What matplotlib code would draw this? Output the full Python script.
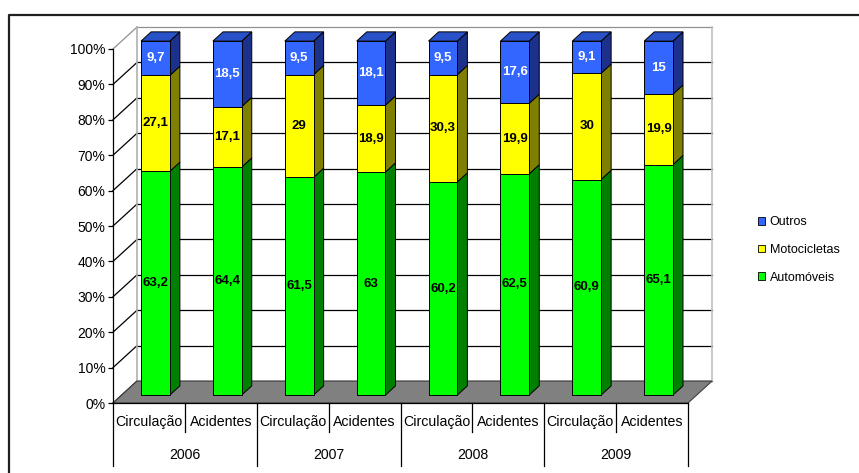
import matplotlib.pyplot as plt
from matplotlib.patches import Polygon, Patch
from matplotlib.lines import Line2D

plt.rcParams['font.family'] = ['Liberation Sans', 'DejaVu Sans']

# data
years = ['2006', '2007', '2008', '2009']
subcats = ['Circulação', 'Acidentes']
automoveis = [63.2, 64.4, 61.5, 63, 60.2, 62.5, 60.9, 65.1]
motocicletas = [27.1, 17.1, 29, 18.9, 30.3, 19.9, 30, 19.9]
outros = [9.7, 18.5, 9.5, 18.1, 9.5, 17.6, 9.1, 15]

series = [
    ('Automóveis', automoveis, '#00FF00', '#008000', '#00C000', 'black'),
    ('Motocicletas', motocicletas, '#FFFF00', '#808000', '#C0C000', 'black'),
    ('Outros', outros, '#3366FF', '#1C318C', '#2A52C8', 'white'),
]

# fake 3d: depth offset in data units (per unit of depth)
DX, DY = 0.334, 6.2
D0, D1 = 0.36, 0.78
BAR_L, BAR_W = 0.27, 0.40
n = len(automoveis)


def proj(x, y, d):
    return (x + d * DX, y + d * DY)


fig = plt.figure(figsize=(8.59, 4.73), dpi=100)
ax = fig.add_axes([113 / 859, 70 / 473, 575 / 859, 354 / 473])
ax.set_xlim(0, n)
ax.set_ylim(0, 100)
for s in ['top', 'right', 'bottom']:
    ax.spines[s].set_visible(False)
ax.spines['left'].set_linewidth(0.9)
ax.set_xticks([])
ax.set_yticks(range(0, 101, 10))
ax.set_yticklabels([f'{v}%' for v in range(0, 101, 10)])
ax.tick_params(axis='y', direction='out', length=3.5, width=0.9, labelsize=10, pad=2)

# walls and gridlines
for v in range(0, 101, 10):
    c = '#909090' if v == 100 else 'black'
    x0, y0 = proj(0, v, 1)
    x1, y1 = proj(n, v, 1)
    ax.plot([x0, x1], [y0, y1], color=c, lw=0.9, clip_on=False, zorder=1)
    xa, ya = proj(0, v, 0)
    ax.plot([xa, x0], [ya, y0], color=c, lw=0.9, clip_on=False, zorder=1)
for xx, c in [(0, '#b0b0b0'), (n, '#c0c0c0')]:
    xa, ya = proj(xx, 0, 1)
    xb, yb = proj(xx, 100, 1)
    ax.plot([xa, xb], [ya, yb], color=c, lw=1.2, clip_on=False, zorder=1)

floor = Polygon([proj(0, 0, 0), proj(n, 0, 0), proj(n, 0, 1), proj(0, 0, 1)],
                closed=True, facecolor='#808080', edgecolor='#404040', lw=0.8,
                clip_on=False, zorder=2)
ax.add_patch(floor)
ax.plot([0, n], [0, 0], color='black', lw=0.9, clip_on=False, zorder=2.5)

# bars
for i in range(n):
    x0 = i + BAR_L
    x1 = x0 + BAR_W
    bottom = 0
    for k, (name, vals, front, side, top, tc) in enumerate(series):
        v = vals[i]
        y0, y1 = bottom, bottom + v
        sidep = Polygon([proj(x1, y0, D0), proj(x1, y0, D1), proj(x1, y1, D1), proj(x1, y1, D0)],
                        facecolor=side, edgecolor='black', lw=0.7, clip_on=False, zorder=4)
        frontp = Polygon([proj(x0, y0, D0), proj(x1, y0, D0), proj(x1, y1, D0), proj(x0, y1, D0)],
                         facecolor=front, edgecolor='black', lw=0.7, clip_on=False, zorder=5)
        ax.add_patch(sidep)
        ax.add_patch(frontp)
        if k == len(series) - 1:
            topp = Polygon([proj(x0, y1, D0), proj(x1, y1, D0), proj(x1, y1, D1), proj(x0, y1, D1)],
                           facecolor=top, edgecolor='black', lw=0.7, clip_on=False, zorder=5)
            ax.add_patch(topp)
        lx, ly = proj((x0 + x1) / 2, (y0 + y1) / 2, D0)
        ax.text(lx, ly, f'{v:g}'.replace('.', ','), ha='center', va='center',
                fontsize=9.5, fontweight='bold', color=tc, zorder=10)
        bottom = y1

# category table below the floor
for k in range(n + 1):
    ylow = -17.8 if k % 2 == 0 else -8.2
    ax.plot([k, k], [0, ylow], color='black', lw=0.9, clip_on=False, zorder=2)
for i in range(n):
    ax.text(i + 0.5, -5.4, subcats[i % 2], ha='center', va='center', fontsize=10.2, zorder=10)
for j, yr in enumerate(years):
    ax.text(2 * j + 1, -14.7, yr, ha='center', va='center', fontsize=10.2, zorder=10)

# legend
handles = [Patch(facecolor=c[2], edgecolor='black', lw=0.6, label=c[0]) for c in series[::-1]]
fig.legend(handles=handles, loc='center left', bbox_to_anchor=(758 / 859, 1 - 250 / 473),
           frameon=False, fontsize=9, handlelength=0.55, handleheight=0.55,
           handletextpad=0.4, labelspacing=1.25, borderpad=0, borderaxespad=0)

# outer border
fig.add_artist(Line2D([9 / 859, 9 / 859, 1.01], [-0.01, 1 - 15 / 473, 1 - 15 / 473],
                      color='#202020', lw=1.6, transform=fig.transFigure))

fig.savefig('out.png', dpi=100)
